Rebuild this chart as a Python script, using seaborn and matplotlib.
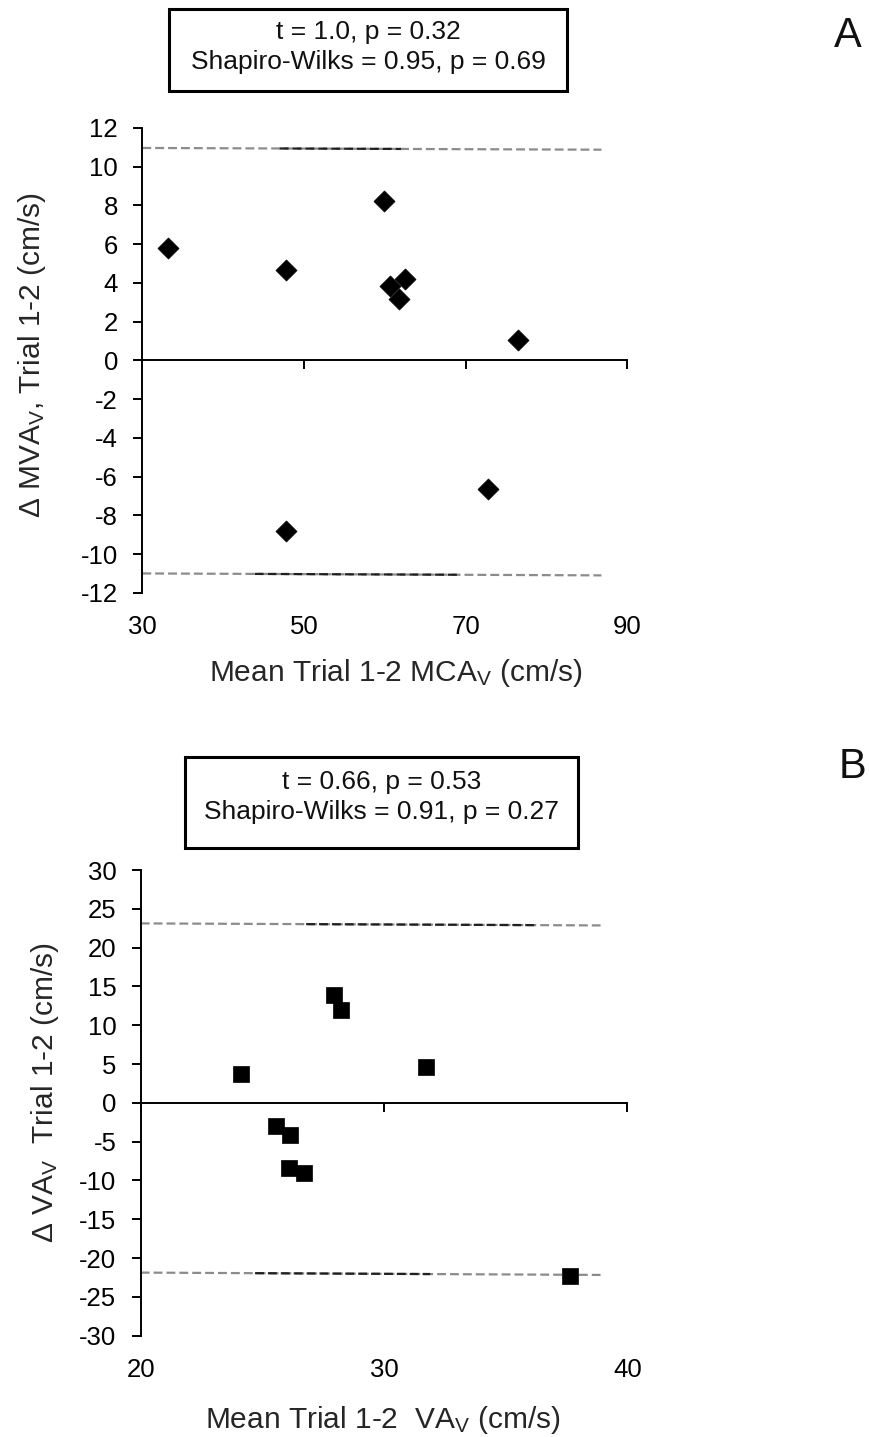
import numpy as np
import matplotlib
matplotlib.use("Agg")
import matplotlib.pyplot as plt
import seaborn as sns
from matplotlib.patches import Rectangle

# ---- Panel A: middle cerebral artery velocity (Bland-Altman) ----
mca_mean = [33.2, 47.8, 59.9, 60.7, 61.7, 62.5, 76.5, 47.8, 72.8]
mca_diff = [5.80, 4.68, 8.21, 3.86, 3.17, 4.22, 1.07, -8.82, -6.63]
mca_loa_x = [30.0, 86.8]
mca_loa_upper = [10.97, 10.88]
mca_loa_lower = [-10.99, -11.09]
mca_dark_upper = [47.0, 62.0]
mca_dark_lower = [43.9, 69.1]
mca_xticks = [30, 50, 70, 90]
mca_yticks = list(range(-12, 13, 2))
mca_stats = ["t = 1.0, p = 0.32", "Shapiro-Wilks = 0.95, p = 0.69"]

# ---- Panel B: vertebral artery velocity (Bland-Altman) ----
va_mean = [24.11, 27.96, 28.24, 31.74, 25.57, 26.15, 26.08, 26.73, 37.65]
va_diff = [3.70, 13.88, 11.95, 4.64, -3.01, -4.13, -8.44, -9.04, -22.26]
va_loa_x = [20.0, 38.9]
va_loa_upper = [23.12, 22.86]
va_loa_lower = [-21.87, -22.17]
va_dark_upper = [26.8, 36.3]
va_dark_lower = [24.7, 31.9]
va_xticks = [20, 30, 40]
va_yticks = list(range(-30, 31, 5))
va_stats = ["t = 0.66, p = 0.53", "Shapiro-Wilks = 0.91, p = 0.27"]

sns.set_theme(style="white")
plt.rcParams["font.family"] = ["Liberation Sans", "DejaVu Sans"]
plt.rcParams["mathtext.fontset"] = "custom"
plt.rcParams["mathtext.rm"] = "Liberation Sans"
plt.rcParams["mathtext.it"] = "Liberation Sans"
plt.rcParams["axes.unicode_minus"] = False
plt.rcParams["text.color"] = "#111111"

W, H = 870, 1437
fig = plt.figure(figsize=(W / 100, H / 100), dpi=100)
fig.patch.set_facecolor("white")

TICK_FS = 18.5
LABEL_FS = 21.5
BOX_FS = 19
LETTER_FS = 30


def px_rect(x0, y0, x1, y1):
    """Pixel box (top-left origin) -> figure fraction [l, b, w, h]."""
    return [x0 / W, 1 - y1 / H, (x1 - x0) / W, (y1 - y0) / H]


def style_axes(ax, xlim, ylim, xticks, yticks):
    ax.set_xlim(*xlim)
    ax.set_ylim(*ylim)
    ax.set_xticks(xticks)
    ax.set_yticks(yticks)
    ax.spines["right"].set_visible(False)
    ax.spines["bottom"].set_visible(False)
    ax.spines["top"].set_position(("data", 0))
    for s in ("left", "top"):
        ax.spines[s].set_linewidth(1.4)
        ax.spines[s].set_color("black")
    ax.tick_params(axis="x", bottom=False, top=True, direction="in",
                   labelbottom=True, labeltop=False, length=6.5, width=1.4,
                   pad=16, labelsize=TICK_FS, colors="black")
    ax.tick_params(axis="y", left=True, direction="out", length=6.5,
                   width=1.4, pad=11, labelsize=TICK_FS, colors="black")
    ax.set_facecolor("white")
    ax.grid(False)


def loa_lines(ax, xs, upper, lower, dark_up, dark_lo):
    for ys, dark in ((upper, dark_up), (lower, dark_lo)):
        ax.plot(xs, ys, ls=(0, (4, 1.8)), color="#8c8c8c", lw=1.6, zorder=1)
        dy = np.interp(dark, xs, ys)
        ax.plot(dark, dy, ls=(0, (4, 1.8)), color="#202020", lw=1.6, zorder=1.5)


def stats_box(x0, y0, x1, y1, lines, line_y):
    fig.patches.append(Rectangle((x0 / W, 1 - y1 / H), (x1 - x0) / W,
                                 (y1 - y0) / H, transform=fig.transFigure,
                                 fill=False, edgecolor="black", lw=2.2))
    cx = (x0 + x1) / 2 / W
    for txt, yy in zip(lines, line_y):
        fig.text(cx, 1 - yy / H, txt, ha="center", va="center",
                 fontsize=BOX_FS, color="#111111")


# Panel A
axA = fig.add_axes(px_rect(142.3, 128, 627.3, 593))
style_axes(axA, (30, 90), (-12, 12), mca_xticks, mca_yticks)
loa_lines(axA, mca_loa_x, mca_loa_upper, mca_loa_lower,
          mca_dark_upper, mca_dark_lower)
sns.scatterplot(x=mca_mean, y=mca_diff, marker="D", s=115, color="black",
                edgecolor="black", linewidth=0.5, ax=axA, zorder=3, clip_on=False)
axA.set_xlabel(r"Mean Trial 1-2 MCA$_\mathrm{V}$ (cm/s)", fontsize=LABEL_FS)
axA.xaxis.label.set_va("center")
axA.xaxis.set_label_coords(0.523, -0.172)
axA.set_ylabel(r"Δ MVA$_\mathrm{V}$, Trial 1-2 (cm/s)", fontsize=LABEL_FS)
axA.yaxis.label.set_va("center")
axA.yaxis.set_label_coords(-0.228, 0.512)
stats_box(169.3, 9.3, 567.3, 90.5, mca_stats, [31.7, 61.7])
fig.text(848 / W, 1 - 36 / H, "A", ha="center", va="center", fontsize=LETTER_FS)

# Panel B
axB = fig.add_axes(px_rect(140.7, 870, 627.3, 1335.7))
style_axes(axB, (20, 40), (-30, 30), va_xticks, va_yticks)
loa_lines(axB, va_loa_x, va_loa_upper, va_loa_lower,
          va_dark_upper, va_dark_lower)
sns.scatterplot(x=va_mean, y=va_diff, marker="s", s=145, color="black",
                edgecolor="black", linewidth=0.5, ax=axB, zorder=3, clip_on=False)
axB.set_xlabel(r"Mean Trial 1-2  VA$_\mathrm{V}$ (cm/s)", fontsize=LABEL_FS)
axB.xaxis.label.set_va("center")
axB.xaxis.set_label_coords(0.497, -0.181)
axB.set_ylabel(r"Δ VA$_\mathrm{V}$  Trial 1-2 (cm/s)", fontsize=LABEL_FS)
axB.yaxis.label.set_va("center")
axB.yaxis.set_label_coords(-0.196, 0.523)
stats_box(185, 757, 578, 848, va_stats, [781.7, 811.7])
fig.text(853 / W, 1 - 767 / H, "B", ha="center", va="center", fontsize=LETTER_FS)

fig.savefig("out.png", dpi=100, facecolor="white")
